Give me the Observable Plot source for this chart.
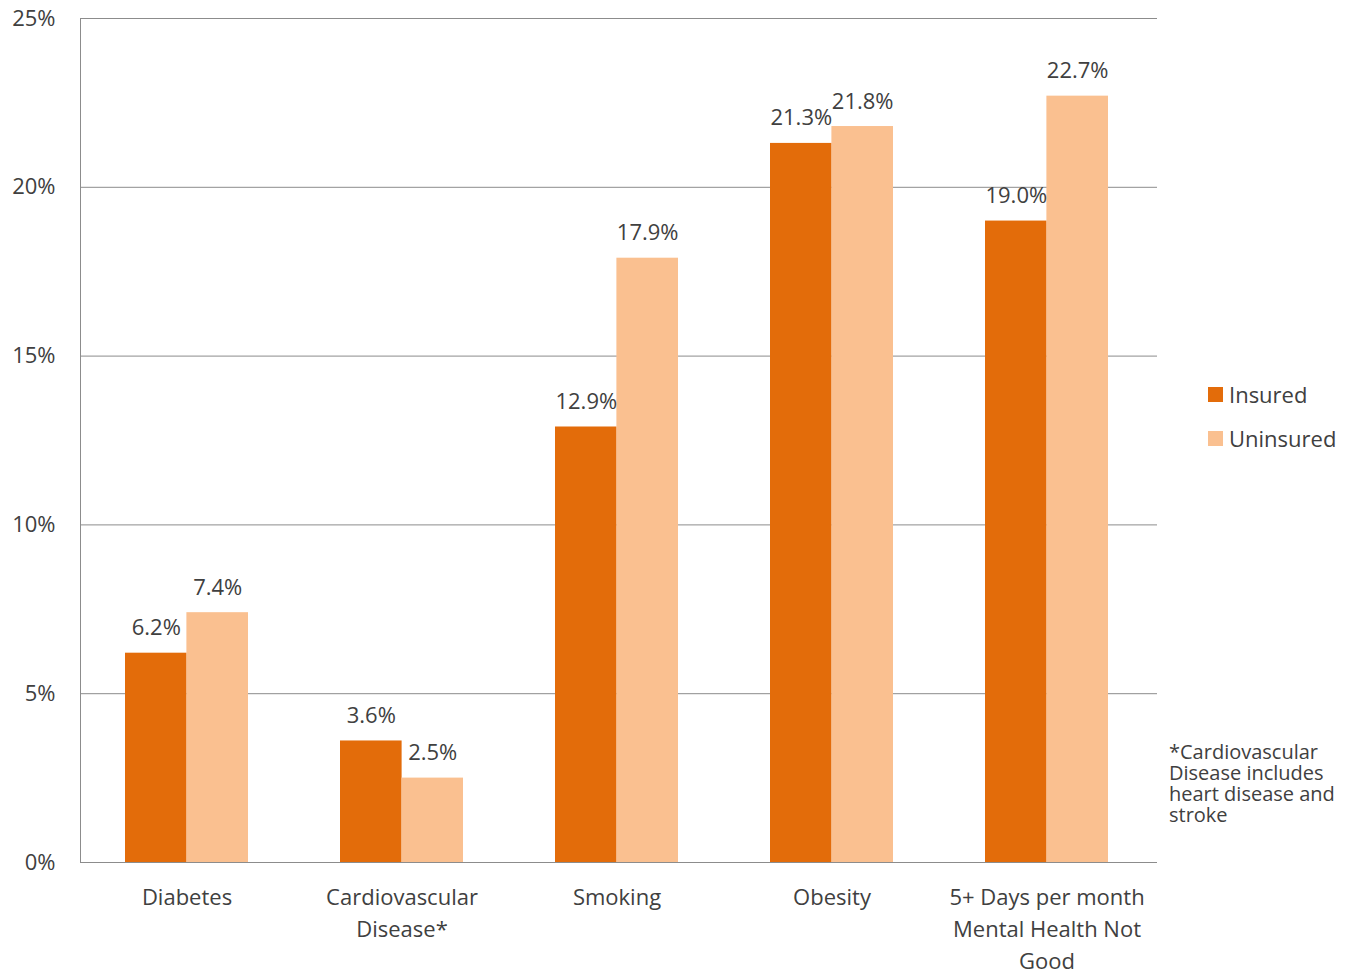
<!DOCTYPE html>
<html>
<head>
<meta charset="utf-8">
<script src="https://cdn.jsdelivr.net/npm/d3@7"></script>
<script src="https://cdn.jsdelivr.net/npm/@observablehq/plot@0.6"></script>
<style>
  html, body { margin: 0; padding: 0; background: #fff; }
  #wrap { position: relative; width: 1354px; height: 974px; font-family: "Open Sans", sans-serif; color: #404040; }
  #legend .row { position: absolute; left: 1208px; height: 22px; font-size: 22px; line-height: 22px; white-space: nowrap; }
  #legend .sw { position: absolute; left: 0; top: 4.5px; width: 15px; height: 15px; }
  #legend .lbl { position: absolute; left: 21px; top: 0; }
  #note { position: absolute; left: 1169px; top: 741px; font-size: 20px; line-height: 21px; width: 185px; }
</style>
</head>
<body>
<div id="wrap"><div id="chart"></div><div id="legend"></div><div id="note"></div></div>
<script>
const categories = ["Diabetes", "Cardiovascular\nDisease*", "Smoking", "Obesity", "5+ Days per month\nMental Health Not\nGood"];
const insured = [6.2, 3.6, 12.9, 21.3, 19.0];
const uninsured = [7.4, 2.5, 17.9, 21.8, 22.7];
const seriesNames = ["Insured", "Uninsured"];
const seriesColors = ["#E36C0A", "#FAC090"];
const yTicks = [0, 5, 10, 15, 20, 25];
const noteText = "*Cardiovascular Disease includes heart disease and stroke";

const W = 1354, H = 974;
const mL = 80, mR = 197, mT = 18, mB = 112;
const pad = 0.43;
const step = (W - mL - mR) / categories.length;
const bw = step * (1 - pad);

const rows = [];
categories.forEach((c, i) => {
  rows.push({cat: c, series: seriesNames[0], value: insured[i]});
  rows.push({cat: c, series: seriesNames[1], value: uninsured[i]});
});
const ins = rows.filter(d => d.series === seriesNames[0]);
const uni = rows.filter(d => d.series === seriesNames[1]);
const fmt = d => d.value.toFixed(1) + "%";

const chart = Plot.plot({
  width: W, height: H,
  marginLeft: mL, marginRight: mR, marginTop: mT, marginBottom: mB,
  style: {fontFamily: "Open Sans", fontSize: "22px", color: "#404040", background: "transparent"},
  x: {type: "band", domain: categories, paddingInner: pad, paddingOuter: pad / 2, align: 0.475, label: null},
  y: {domain: [0, 25], label: null},
  color: {domain: seriesNames, range: seriesColors},
  marks: [
    Plot.gridY(yTicks, {stroke: "#8c8c8c", strokeOpacity: 1, strokeWidth: 1}),
    Plot.frame({anchor: "left", stroke: "#8c8c8c", strokeWidth: 1}),
    Plot.barY(ins, {x: "cat", y: "value", fill: "series", insetRight: bw / 2, insetLeft: 0}),
    Plot.barY(uni, {x: "cat", y: "value", fill: "series", insetLeft: bw / 2, insetRight: 0}),
    Plot.ruleY([0], {stroke: "#8c8c8c", strokeWidth: 1}),
    Plot.text(ins, {x: "cat", y: "value", text: fmt, dx: -bw / 4, dy: -18, lineAnchor: "bottom", fontSize: 22, fill: "#404040"}),
    Plot.text(uni, {x: "cat", y: "value", text: fmt, dx: bw / 4, dy: -18, lineAnchor: "bottom", fontSize: 22, fill: "#404040"}),
    Plot.axisY(yTicks, {tickSize: 0, tickPadding: 25, tickFormat: d => d + "%", fontSize: 22, label: null}),
    Plot.axisX({tickSize: 0, tickPadding: 20, fontSize: 22, lineHeight: 1.45, label: null})
  ]
});
document.getElementById("chart").appendChild(chart);

const legend = document.getElementById("legend");
seriesNames.forEach((name, i) => {
  const row = document.createElement("div");
  row.className = "row";
  row.style.top = (382.5 + i * 44) + "px";
  const sw = document.createElement("div");
  sw.className = "sw";
  sw.style.background = seriesColors[i];
  const lbl = document.createElement("div");
  lbl.className = "lbl";
  lbl.textContent = name;
  row.appendChild(sw); row.appendChild(lbl);
  legend.appendChild(row);
});
document.getElementById("note").textContent = noteText;
</script>
</body>
</html>
